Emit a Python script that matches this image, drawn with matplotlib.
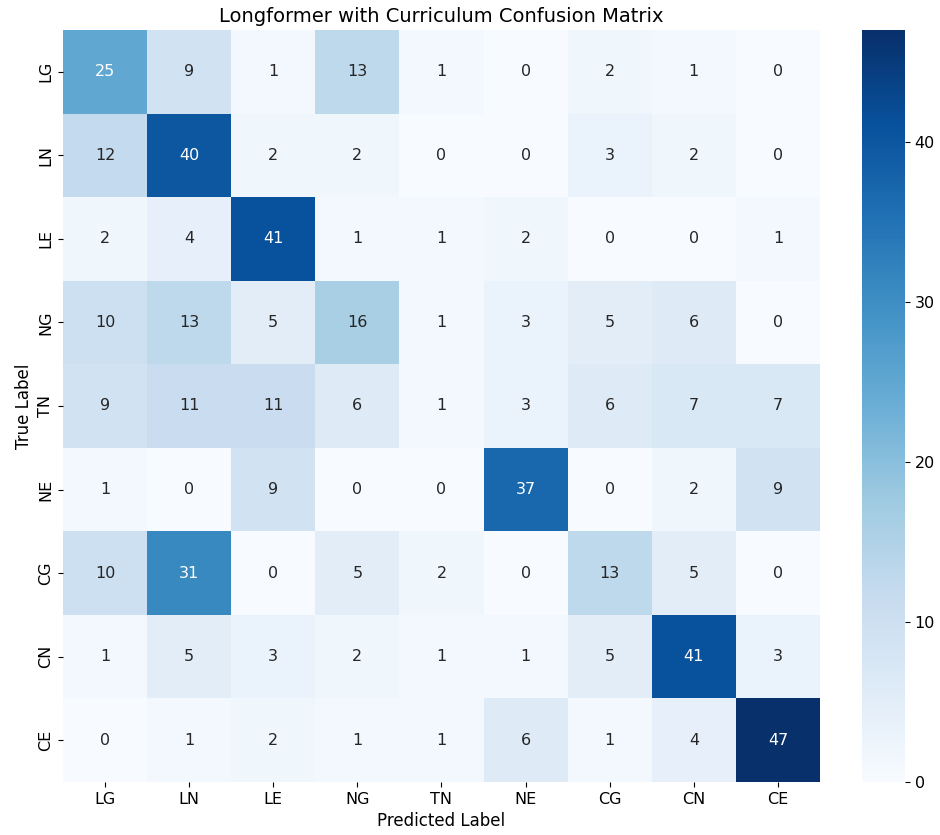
import numpy as np
import matplotlib
matplotlib.use("Agg")
import matplotlib.pyplot as plt
import seaborn as sns

labels = ["LG", "LN", "LE", "NG", "TN", "NE", "CG", "CN", "CE"]
cm = np.array([
    [25, 9, 1, 13, 1, 0, 2, 1, 0],
    [12, 40, 2, 2, 0, 0, 3, 2, 0],
    [2, 4, 41, 1, 1, 2, 0, 0, 1],
    [10, 13, 5, 16, 1, 3, 5, 6, 0],
    [9, 11, 11, 6, 1, 3, 6, 7, 7],
    [1, 0, 9, 0, 0, 37, 0, 2, 9],
    [10, 31, 0, 5, 2, 0, 13, 5, 0],
    [1, 5, 3, 2, 1, 1, 5, 41, 3],
    [0, 1, 2, 1, 1, 6, 1, 4, 47],
])

fig = plt.figure(figsize=(9.4, 8.35), dpi=100)
ax = fig.add_axes([63 / 940, 1 - 782 / 835, 757 / 940, 752 / 835])
cax = fig.add_axes([862 / 940, 1 - 782 / 835, 43 / 940, 752 / 835])

sns.heatmap(cm, annot=True, fmt="d", cmap="Blues", xticklabels=labels,
            yticklabels=labels, ax=ax, cbar_ax=cax,
            annot_kws={"size": 11.5})
ax.set_title("Longformer with Curriculum Confusion Matrix", fontsize=14)
ax.set_xlabel("Predicted Label", fontsize=12)
ax.set_ylabel("True Label", fontsize=12)
ax.tick_params(labelsize=11.5)
cax.tick_params(labelsize=11.5)

fig.savefig("out.png", dpi=100)
